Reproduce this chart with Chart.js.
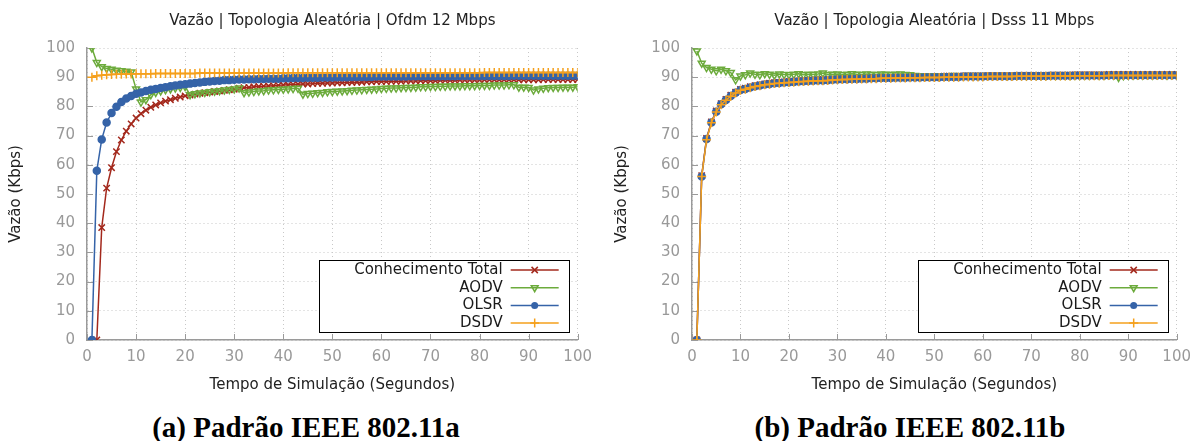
<!DOCTYPE html>
<html>
<head>
<meta charset="utf-8">
<script src="https://cdn.jsdelivr.net/npm/chart.js@4.4.1/dist/chart.umd.min.js"></script>
<style>
  body { margin: 0; background: #fff; width: 1199px; height: 441px; position: relative; overflow: hidden; }
  canvas { position: absolute; top: 0; }
  .cap { position: absolute; top: 411px; line-height: 32px; text-align: center;
         font: bold 29px "Liberation Serif", "Times New Roman", serif; color: #000; }
</style>
</head>
<body>
<canvas id="ofdmChart" width="600" height="400" style="left:0"></canvas>
<canvas id="dsssChart" width="599" height="400" style="left:600px"></canvas>
<div class="cap" style="left:0;width:612px">(a) Padrão IEEE 802.11a</div>
<div class="cap" style="left:620px;width:580px">(b) Padrão IEEE 802.11b</div>
<script>
// Time axis (seconds)
const seconds = [
  1, 2, 3, 4, 5, 6, 7, 8, 9, 10, 11, 12, 13, 14, 15, 16, 17, 18, 19, 20,
  21, 22, 23, 24, 25, 26, 27, 28, 29, 30, 31, 32, 33, 34, 35, 36, 37, 38, 39, 40,
  41, 42, 43, 44, 45, 46, 47, 48, 49, 50, 51, 52, 53, 54, 55, 56, 57, 58, 59, 60,
  61, 62, 63, 64, 65, 66, 67, 68, 69, 70, 71, 72, 73, 74, 75, 76, 77, 78, 79, 80,
  81, 82, 83, 84, 85, 86, 87, 88, 89, 90, 91, 92, 93, 94, 95, 96, 97, 98, 99, 100
];
const xTicks = [0, 10, 20, 30, 40, 50, 60, 70, 80, 90, 100];
const yTicks = [0, 10, 20, 30, 40, 50, 60, 70, 80, 90, 100];
const seriesNames = ['Conhecimento Total', 'AODV', 'OLSR', 'DSDV'];

// (a) Ofdm 12 Mbps
const ofdmTotal = [
  null, 0, 38.5, 52, 59, 64.5, 68.5, 71.5, 74, 76,
  77.5, 78.7, 79.7, 80.5, 81.2, 81.8, 82.3, 82.8, 83.2, 83.6,
  83.9, 84.2, 84.5, 84.7, 84.9, 85.1, 85.3, 85.5, 85.7, 85.9,
  86.2, 86.4, 86.5, 86.7, 86.8, 86.9, 87.0, 87.1, 87.2, 87.3,
  87.4, 87.5, 87.6, 87.7, 87.7, 87.8, 87.9, 87.9, 88.0, 88.0,
  88.1, 88.1, 88.2, 88.2, 88.3, 88.3, 88.4, 88.4, 88.5, 88.5,
  88.5, 88.6, 88.6, 88.6, 88.7, 88.7, 88.7, 88.8, 88.8, 88.8,
  88.8, 88.9, 88.9, 88.9, 88.9, 89.0, 89.0, 89.0, 89.0, 89.0,
  89.1, 89.1, 89.1, 89.1, 89.1, 89.1, 89.1, 89.1, 89.1, 89.1,
  89.1, 89.1, 89.2, 89.2, 89.2, 89.2, 89.2, 89.2, 89.2, 89.2
];
const ofdmAodv = [
  100, 95.0, 93.6, 93.0, 92.7, 92.4, 92.2, 92.0, 91.8, 86.0,
  81.5, 82.3, 84.0, 84.8, 85.3, 85.7, 86.0, 86.3, 86.5, 86.8,
  84.0, 84.3, 84.6, 84.8, 85.0, 85.2, 85.4, 85.6, 85.8, 86.0,
  86.3, 84.7, 84.9, 85.1, 85.3, 85.4, 85.6, 85.7, 85.8, 85.9,
  86.0, 86.1, 86.2, 84.2, 84.4, 84.5, 84.7, 84.8, 85.0, 85.1,
  85.2, 85.3, 85.4, 85.5, 85.6, 85.7, 85.8, 85.9, 86.0, 86.1,
  86.2, 86.3, 86.3, 86.4, 86.5, 86.5, 86.6, 86.7, 86.7, 86.8,
  86.8, 86.9, 86.9, 87.0, 87.0, 87.0, 87.1, 87.1, 87.1, 87.2,
  87.2, 87.2, 87.3, 87.3, 87.3, 87.4, 87.4, 86.6, 86.6, 86.5,
  85.6, 86.0, 86.2, 86.4, 86.5, 86.5, 86.6, 86.6, 86.6, 86.7
];
const ofdmOlsr = [
  0, 58, 68.7, 74.5, 77.7, 79.9, 81.5, 82.7, 83.6, 84.3,
  84.8, 85.3, 85.7, 86.0, 86.3, 86.6, 86.9, 87.2, 87.4, 87.6,
  87.8, 88.0, 88.2, 88.4, 88.5, 88.7, 88.8, 89.0, 89.0, 89.1,
  89.2, 89.2, 89.3, 89.3, 89.4, 89.4, 89.5, 89.5, 89.5, 89.6,
  89.6, 89.7, 89.7, 89.7, 89.8, 89.8, 89.8, 89.9, 89.9, 89.9,
  90.0, 90.0, 90.0, 90.1, 90.1, 90.1, 90.1, 90.1, 90.2, 90.2,
  90.2, 90.2, 90.2, 90.2, 90.2, 90.3, 90.3, 90.3, 90.3, 90.3,
  90.3, 90.3, 90.3, 90.3, 90.3, 90.4, 90.4, 90.4, 90.4, 90.4,
  90.4, 90.4, 90.4, 90.4, 90.4, 90.4, 90.5, 90.5, 90.5, 90.5,
  90.5, 90.5, 90.5, 90.5, 90.5, 90.5, 90.5, 90.5, 90.5, 90.5
];
const ofdmDsdv = [
  90.0, 90.5, 90.7, 90.8, 90.9, 91.0, 91.0, 91.1, 91.1, 91.2,
  91.2, 91.2, 91.2, 91.3, 91.3, 91.3, 91.3, 91.3, 91.3, 91.3,
  91.3, 91.3, 91.4, 91.4, 91.4, 91.4, 91.4, 91.4, 91.4, 91.4,
  91.4, 91.4, 91.4, 91.4, 91.4, 91.4, 91.4, 91.4, 91.4, 91.4,
  91.5, 91.5, 91.5, 91.5, 91.5, 91.5, 91.5, 91.5, 91.5, 91.5,
  91.5, 91.5, 91.5, 91.5, 91.5, 91.5, 91.5, 91.5, 91.5, 91.5,
  91.5, 91.5, 91.5, 91.5, 91.5, 91.5, 91.5, 91.5, 91.5, 91.5,
  91.5, 91.5, 91.5, 91.5, 91.5, 91.5, 91.5, 91.5, 91.5, 91.5,
  91.6, 91.6, 91.6, 91.6, 91.6, 91.6, 91.6, 91.6, 91.6, 91.6,
  91.6, 91.6, 91.6, 91.6, 91.6, 91.6, 91.6, 91.6, 91.6, 91.6
];

// (b) Dsss 11 Mbps
const dsssTotal = [
  0, 56.3, 69.0, 74.7, 78.4, 80.9, 82.4, 83.8, 84.9, 85.8,
  86.2, 86.7, 87.1, 87.4, 87.7, 87.9, 88.1, 88.2, 88.4, 88.5,
  88.6, 88.7, 88.8, 88.9, 89.0, 89.1, 89.1, 89.2, 89.3, 89.4,
  89.5, 89.5, 89.6, 89.6, 89.7, 89.7, 89.8, 89.8, 89.9, 89.9,
  89.9, 90.0, 90.0, 90.0, 90.1, 90.1, 90.1, 90.2, 90.2, 90.2,
  90.2, 90.3, 90.3, 90.3, 90.3, 90.4, 90.4, 90.4, 90.4, 90.4,
  90.5, 90.5, 90.5, 90.5, 90.5, 90.5, 90.6, 90.6, 90.6, 90.6,
  90.6, 90.6, 90.6, 90.7, 90.7, 90.7, 90.7, 90.7, 90.8, 90.8,
  90.8, 90.8, 90.8, 90.8, 90.8, 90.9, 90.9, 90.9, 90.9, 90.9,
  90.9, 90.9, 90.9, 90.9, 90.9, 90.9, 90.9, 90.9, 90.9, 90.9
];
const dsssAodv = [
  99, 94.8, 93.3, 92.7, 92.2, 92.7, 92.2, 91.6, 89.1, 90.4,
  90.8, 91.4, 91.0, 90.8, 91.2, 91.0, 90.7, 91.1, 90.9, 90.8,
  91.0, 91.2, 90.8, 91.0, 90.9, 91.1, 91.4, 90.9, 91.0, 91.1,
  90.8, 91.0, 91.2, 91.0, 90.9, 91.1, 91.0, 90.8, 91.1, 91.0,
  90.9, 91.0, 91.1, 90.9, 90.8, 90.6, 90.5, 90.5, 90.4, 90.5,
  90.4, 90.5, 90.5, 90.6, 90.5, 90.5, 90.6, 90.5, 90.6, 90.5,
  90.6, 90.5, 90.6, 90.6, 90.5, 90.6, 90.6, 90.6, 90.5, 90.6,
  90.6, 90.6, 90.6, 90.7, 90.6, 90.7, 90.7, 90.6, 90.7, 90.7,
  90.7, 90.7, 90.8, 90.7, 90.7, 90.8, 90.7, 89.9, 90.5, 90.7,
  90.7, 90.8, 90.7, 90.8, 90.7, 90.8, 90.8, 90.7, 90.8, 90.8
];
const dsssOlsr = [
  0, 56, 68.8, 74.5, 78.2, 80.7, 82.2, 83.6, 84.7, 85.6,
  86.0, 86.5, 86.9, 87.2, 87.5, 87.7, 87.9, 88.0, 88.2, 88.3,
  88.4, 88.5, 88.6, 88.7, 88.8, 88.9, 88.9, 89.0, 89.1, 89.2,
  89.3, 89.3, 89.4, 89.4, 89.5, 89.5, 89.6, 89.6, 89.7, 89.7,
  89.7, 89.8, 89.8, 89.8, 89.9, 89.9, 89.9, 90.0, 90.0, 90.0,
  90.0, 90.1, 90.1, 90.1, 90.1, 90.2, 90.2, 90.2, 90.2, 90.2,
  90.3, 90.3, 90.3, 90.3, 90.3, 90.3, 90.4, 90.4, 90.4, 90.4,
  90.4, 90.4, 90.4, 90.5, 90.5, 90.5, 90.5, 90.5, 90.6, 90.6,
  90.6, 90.6, 90.6, 90.6, 90.6, 90.7, 90.7, 90.7, 90.7, 90.7,
  90.7, 90.7, 90.7, 90.7, 90.7, 90.7, 90.7, 90.7, 90.7, 90.7
];
const dsssDsdv = [
  0, 56, 68.6, 74.4, 78.1, 80.6, 82.1, 83.5, 84.6, 85.5,
  85.9, 86.4, 86.8, 87.1, 87.4, 87.6, 87.8, 87.9, 88.1, 88.2,
  88.3, 88.4, 88.5, 88.6, 88.7, 88.8, 88.8, 88.9, 89.0, 89.1,
  89.2, 89.2, 89.3, 89.3, 89.4, 89.4, 89.5, 89.5, 89.6, 89.6,
  89.6, 89.7, 89.7, 89.7, 89.8, 89.8, 89.8, 89.9, 89.9, 89.9,
  89.9, 90.0, 90.0, 90.0, 90.0, 90.1, 90.1, 90.1, 90.1, 90.1,
  90.2, 90.2, 90.2, 90.2, 90.2, 90.2, 90.3, 90.3, 90.3, 90.3,
  90.3, 90.3, 90.3, 90.4, 90.4, 90.4, 90.4, 90.4, 90.5, 90.5,
  90.5, 90.5, 90.5, 90.5, 90.5, 90.6, 90.6, 90.6, 90.6, 90.6,
  90.6, 90.6, 90.6, 90.6, 90.6, 90.6, 90.6, 90.6, 90.6, 90.6
];

// Look of each series (same order as seriesNames)
const seriesColors = ['#a3281c', '#6cab3c', '#3563a8', '#f5a01c'];
const seriesMarks = [
  { pointStyle: 'crossRot', pointRadius: 4.5, pointRotation: 0, fillPoint: false, order: 4 },
  { pointStyle: 'triangle', pointRadius: 4, pointRotation: 180, fillPoint: false, order: 3 },
  { pointStyle: 'circle', pointRadius: 3.5, pointRotation: 0, fillPoint: true, order: 2 },
  { pointStyle: 'cross', pointRadius: 4.5, pointRotation: 0, fillPoint: false, order: 1 }
];

const FONT = 'DejaVu Sans';
const toPoints = (vals) => seconds.map((s, i) => ({ x: s, y: vals[i] }));

// little legend marker, same shapes as the series
function drawMark(ctx, style, x, y, r) {
  ctx.beginPath();
  if (style === 'crossRot') {
    ctx.moveTo(x - r * 0.7, y - r * 0.7); ctx.lineTo(x + r * 0.7, y + r * 0.7);
    ctx.moveTo(x + r * 0.7, y - r * 0.7); ctx.lineTo(x - r * 0.7, y + r * 0.7);
    ctx.stroke();
  } else if (style === 'triangle') {
    ctx.moveTo(x - r * 0.85, y - r * 0.5); ctx.lineTo(x + r * 0.85, y - r * 0.5); ctx.lineTo(x, y + r);
    ctx.closePath(); ctx.stroke();
  } else if (style === 'circle') {
    ctx.arc(x, y, r, 0, Math.PI * 2); ctx.fill();
  } else {
    ctx.moveTo(x - r, y); ctx.lineTo(x + r, y);
    ctx.moveTo(x, y - r); ctx.lineTo(x, y + r);
    ctx.stroke();
  }
}

function makeChart(canvasId, title, seriesValues, yAxisWidth, yTitlePad, rightPad) {
  const ctx = document.getElementById(canvasId).getContext('2d');

  const datasets = seriesValues.map((vals, i) => ({
    label: seriesNames[i],
    data: toPoints(vals),
    borderColor: seriesColors[i],
    backgroundColor: seriesColors[i],
    pointBackgroundColor: seriesMarks[i].fillPoint ? seriesColors[i] : 'rgba(0,0,0,0)',
    pointBorderColor: seriesColors[i],
    borderWidth: 1.5,
    pointBorderWidth: 1.5,
    pointStyle: seriesMarks[i].pointStyle,
    pointRadius: seriesMarks[i].pointRadius,
    pointRotation: seriesMarks[i].pointRotation,
    tension: 0,
    fill: false,
    spanGaps: false,
    order: seriesMarks[i].order
  }));

  // title centered over plot area
  const plotTitle = {
    id: 'plotTitle',
    afterDraw(chart) {
      const c = chart.ctx, a = chart.chartArea;
      c.save();
      c.font = `15px "${FONT}"`;
      c.fillStyle = '#222';
      c.textAlign = 'center';
      c.textBaseline = 'middle';
      c.fillText(title, (a.left + a.right) / 2, 21);
      c.restore();
    }
  };

  // gnuplot style tick marks pointing into the plot
  const innerTicks = {
    id: 'innerTicks',
    beforeDatasetsDraw(chart) {
      const c = chart.ctx, a = chart.chartArea;
      const xs = chart.scales.x, ys = chart.scales.y;
      c.save();
      c.strokeStyle = '#9a9a9a';
      c.lineWidth = 1;
      c.beginPath();
      xTicks.forEach(v => {
        const px = Math.round(xs.getPixelForValue(v)) + 0.5;
        c.moveTo(px, a.bottom); c.lineTo(px, a.bottom - 6);
      });
      yTicks.forEach(v => {
        const py = Math.round(ys.getPixelForValue(v)) + 0.5;
        c.moveTo(a.left, py); c.lineTo(a.left + 6, py);
      });
      c.stroke();
      c.restore();
    }
  };

  // boxed legend at bottom right
  const boxLegend = {
    id: 'boxLegend',
    afterDraw(chart) {
      const c = chart.ctx, a = chart.chartArea;
      const w = 250, h = 72;
      const left = a.right - 9 - w, top = a.bottom - 8 - h;
      c.save();
      c.fillStyle = '#fff';
      c.fillRect(left, top, w, h);
      c.strokeStyle = '#000';
      c.lineWidth = 1;
      c.strokeRect(Math.round(left) + 0.5, Math.round(top) + 0.5, w, h);
      c.font = `15px "${FONT}"`;
      c.textAlign = 'right';
      c.textBaseline = 'middle';
      seriesNames.forEach((name, i) => {
        const y = top + 10 + i * 17.7;
        c.fillStyle = '#1a1a1a';
        c.fillText(name, left + 184, y);
        c.strokeStyle = seriesColors[i];
        c.fillStyle = seriesColors[i];
        c.lineWidth = 1.5;
        c.beginPath();
        c.moveTo(left + 192, y); c.lineTo(left + 240, y);
        c.stroke();
        drawMark(c, seriesMarks[i].pointStyle, left + 216, y, seriesMarks[i].pointRadius);
      });
      c.restore();
    }
  };

  return new Chart(ctx, {
    type: 'line',
    data: { datasets },
    plugins: [innerTicks, plotTitle, boxLegend],
    options: {
      responsive: false,
      animation: false,
      devicePixelRatio: 1,
      layout: { padding: { top: 48, right: rightPad, bottom: 0, left: 0 } },
      plugins: { legend: { display: false }, tooltip: { enabled: false } },
      scales: {
        x: {
          type: 'linear', min: 0, max: 100,
          afterBuildTicks: (s) => { s.ticks = xTicks.map(v => ({ value: v })); },
          afterFit: (s) => { s.height = 60; },
          ticks: { color: '#999', font: { family: FONT, size: 15 }, padding: 8, maxRotation: 0, autoSkip: false },
          grid: { color: '#c8c8c8', lineWidth: 1, drawTicks: false },
          border: { color: '#9a9a9a', width: 1.5, dash: [1, 3] },
          title: { display: true, text: 'Tempo de Simulação (Segundos)', color: '#222',
                   font: { family: FONT, size: 15 }, padding: { top: 0, bottom: 6 } }
        },
        y: {
          min: 0, max: 100,
          afterBuildTicks: (s) => { s.ticks = yTicks.map(v => ({ value: v })); },
          afterFit: (s) => { s.width = yAxisWidth; },
          ticks: { color: '#999', font: { family: FONT, size: 15 }, padding: 12 },
          grid: { color: '#c8c8c8', lineWidth: 1, drawTicks: false },
          border: { color: '#9a9a9a', width: 1.5, dash: [1, 3] },
          title: { display: true, text: 'Vazão (Kbps)', color: '#222',
                   font: { family: FONT, size: 15 }, padding: { top: yTitlePad, bottom: 0 } }
        }
      }
    }
  });
}

makeChart('ofdmChart', 'Vazão | Topologia Aleatória | Ofdm 12 Mbps',
  [ofdmTotal, ofdmAodv, ofdmOlsr, ofdmDsdv], 87, 7, 22);
makeChart('dsssChart', 'Vazão | Topologia Aleatória | Dsss 11 Mbps',
  [dsssTotal, dsssAodv, dsssOlsr, dsssDsdv], 92, 13, 16);
</script>
</body>
</html>
